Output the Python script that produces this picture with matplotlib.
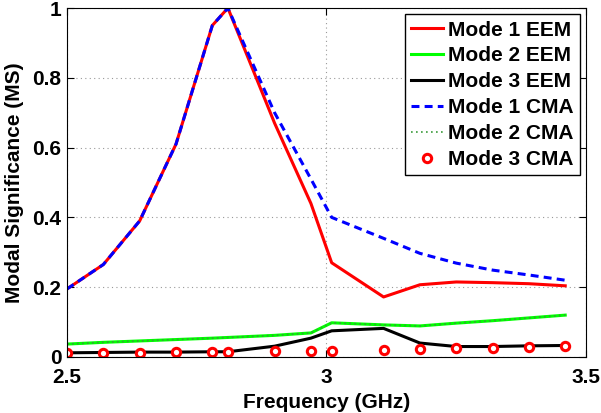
import matplotlib
matplotlib.use("Agg")
import matplotlib.pyplot as plt

# frequency points (GHz)
freq = [2.50, 2.57, 2.64, 2.71, 2.78, 2.81, 2.90, 2.97, 3.01,
        3.11, 3.18, 3.25, 3.32, 3.39, 3.46]

# modal significance values
mode1_eem = [0.195, 0.265, 0.39, 0.61, 0.95, 1.0, 0.67, 0.44, 0.27,
             0.172, 0.207, 0.215, 0.213, 0.21, 0.204]
mode2_eem = [0.037, 0.042, 0.046, 0.050, 0.054, 0.056, 0.062, 0.069, 0.098,
             0.092, 0.089, 0.097, 0.104, 0.112, 0.120]
mode3_eem = [0.012, 0.013, 0.014, 0.014, 0.015, 0.015, 0.031, 0.054, 0.075,
             0.082, 0.040, 0.030, 0.030, 0.032, 0.033]
mode1_cma = [0.195, 0.265, 0.39, 0.61, 0.95, 1.0, 0.70, 0.51, 0.40,
             0.34, 0.297, 0.269, 0.249, 0.235, 0.22]
mode2_cma = mode2_eem
mode3_cma = [0.011, 0.011, 0.012, 0.013, 0.014, 0.014, 0.017, 0.018, 0.018,
             0.020, 0.023, 0.025, 0.027, 0.030, 0.032]

xticks = [2.5, 3.0, 3.5]
xtick_labels = ["2.5", "3", "3.5"]
yticks = [0, 0.2, 0.4, 0.6, 0.8, 1.0]
ytick_labels = ["0", "0.2", "0.4", "0.6", "0.8", "1"]

plt.rcParams['font.family'] = ['Liberation Sans', 'DejaVu Sans']
plt.rcParams['font.weight'] = 'bold'
plt.rcParams['font.size'] = 15

fig = plt.figure(figsize=(6.01, 4.13), dpi=100)
ax = fig.add_axes([0.1115, 0.1356, 0.8635, 0.845])

ax.plot(freq, mode1_eem, color="red", lw=2.2, label="Mode 1 EEM")
ax.plot(freq, mode2_eem, color="#00ff00", lw=2.2, label="Mode 2 EEM")
ax.plot(freq, mode3_eem, color="black", lw=2.2, label="Mode 3 EEM")
ax.plot(freq, mode1_cma, color="blue", lw=2.2, dashes=(2.6, 1.7), label="Mode 1 CMA")
ax.plot(freq, mode2_cma, color="#3a9a3a", lw=1.2, ls=(0, (1, 2)), label="Mode 2 CMA")
ax.plot(freq, mode3_cma, ls="none", marker="o", ms=6, mfc="white", mec="red",
        mew=2.2, label="Mode 3 CMA")

ax.set_xlim(2.5, 3.5)
ax.set_ylim(0, 1)
ax.set_xticks(xticks)
ax.set_xticklabels(xtick_labels)
ax.set_yticks(yticks)
ax.set_yticklabels(ytick_labels)
ax.tick_params(direction="in", top=True, right=True, length=5, width=0.8)
ax.tick_params(axis="x", pad=8)
ax.tick_params(axis="y", pad=4)
ax.grid(True, color="0.6", ls=(0, (1, 3)), lw=0.8)

ax.set_xlabel("Frequency (GHz)", fontweight="bold", labelpad=4)
ax.set_ylabel("Modal Significance (MS)", fontweight="bold", labelpad=6)

leg = ax.legend(loc="upper right", fancybox=False, framealpha=1, edgecolor="black",
                handlelength=1.5, handletextpad=0.25, borderpad=0.3,
                labelspacing=0.33, borderaxespad=0.3)
leg.get_frame().set_linewidth(1.0)

fig.savefig("out.png", dpi=100)
